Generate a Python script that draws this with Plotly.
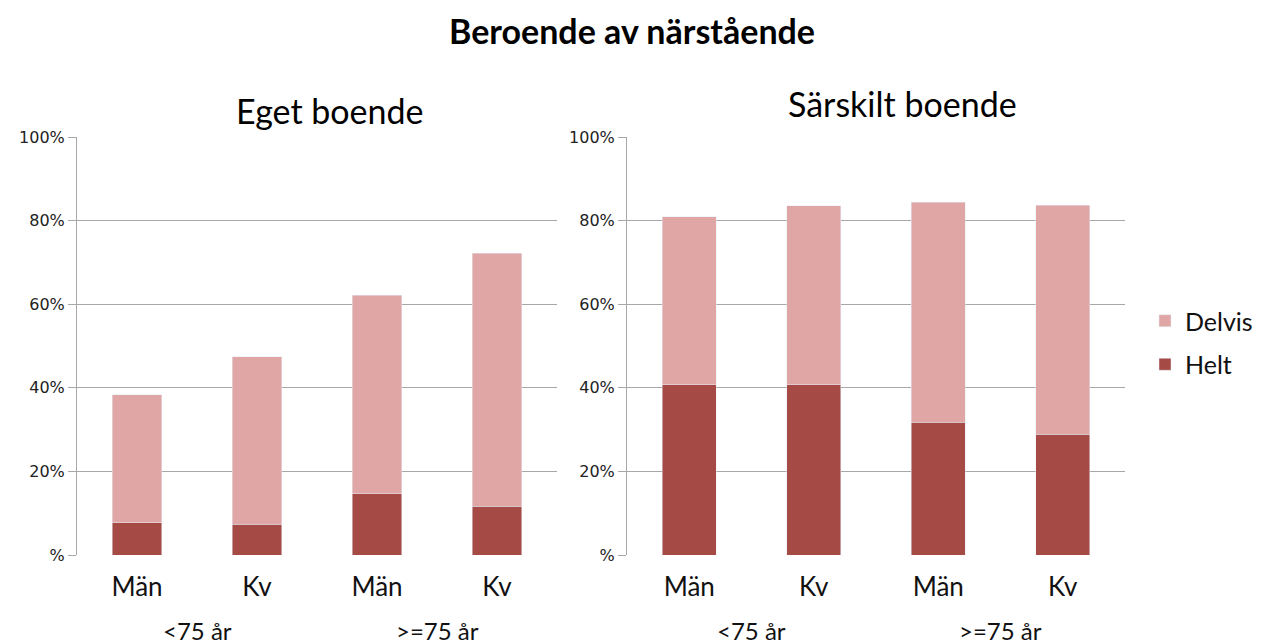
import plotly.graph_objects as go

categories = ["Män", "Kv", "Män", "Kv"]
age_groups = ["<75 år", ">=75 år"]
y_ticks = [0, 20, 40, 60, 80, 100]
y_ticktext = ["%", "20%", "40%", "60%", "80%", "100%"]

# Eget boende
eget_helt = [7.7, 7.4, 14.6, 11.7]
eget_total = [38.3, 47.4, 62.2, 72.2]
# Särskilt boende
sars_helt = [40.7, 40.7, 31.8, 28.9]
sars_total = [80.9, 83.5, 84.4, 83.7]

eget_delvis = [t - h for t, h in zip(eget_total, eget_helt)]
sars_delvis = [t - h for t, h in zip(sars_total, sars_helt)]

c_helt = "#a54a45"
c_delvis = "#e0a6a5"
xpos = list(range(len(categories)))

W, H = 1271, 644
OFF = 8  # page body margin offset
def px(x):
    return (x - OFF) / W
def py(y):
    return (H - (y - OFF)) / H

fig = go.Figure()
for xa, ya, helt, delvis, show, w in [("x", "y", eget_helt, eget_delvis, True, 0.41),
                                       ("x2", "y2", sars_helt, sars_delvis, False, 0.43)]:
    fig.add_trace(go.Bar(x=xpos, y=helt, name="Helt", marker_color=c_helt, width=w,
                         xaxis=xa, yaxis=ya, showlegend=show, legendgroup="h", legendrank=2))
    fig.add_trace(go.Bar(x=xpos, y=delvis, name="Delvis", marker_color=c_delvis, width=w,
                         xaxis=xa, yaxis=ya, showlegend=show, legendgroup="d", legendrank=1))

FONT = "Lato, Open Sans, sans-serif"
grid = "#a8a8a8"
xcommon = dict(tickmode="array", tickvals=xpos, ticktext=categories, range=[-0.5, 3.5],
               showgrid=False, showline=False, ticks="", zeroline=False, automargin=False,
               tickfont=dict(family=FONT, size=26, color="#111"),
               ticklabelstandoff=14)
ycommon = dict(range=[0, 100], tickmode="array", tickvals=y_ticks, ticktext=y_ticktext,
               showgrid=True, gridcolor=grid, gridwidth=1, showline=True, linecolor=grid,
               linewidth=1, ticks="outside", ticklen=8, tickcolor=grid, zeroline=False,
               automargin=False,
               tickfont=dict(family="DejaVu Sans", size=16, color="#222"))

fig.update_layout(
    width=W, height=H, barmode="stack",
    margin=dict(l=0, r=0, t=0, b=0),
    paper_bgcolor="white", plot_bgcolor="white",
    xaxis=dict(domain=[px(77), px(557)], anchor="y", **xcommon),
    xaxis2=dict(domain=[px(627), px(1125)], anchor="y2", **xcommon),
    yaxis=dict(domain=[py(555), py(137)], anchor="x", **ycommon),
    yaxis2=dict(domain=[py(555), py(137)], anchor="x2", **ycommon),
    legend=dict(x=px(1145), y=py(298), xanchor="left", yanchor="top",
                traceorder="grouped", font=dict(family=FONT, size=25, color="#111"),
                itemwidth=30, tracegroupgap=8),
    showlegend=True,
)

annotations = [
    dict(text="<b>Beroende av närstående</b>", x=px(632), y=1, xref="paper", yref="paper",
         xanchor="center", yanchor="top",
         showarrow=False, font=dict(family=FONT, size=34, color="#000")),
    dict(text="Eget boende", x=px(330), y=py(110), xref="paper", yref="paper",
         xanchor="center", yanchor="middle",
         showarrow=False, font=dict(family=FONT, size=34, color="#000")),
    dict(text="Särskilt boende", x=px(902), y=py(104), xref="paper", yref="paper",
         xanchor="center", yanchor="middle",
         showarrow=False, font=dict(family=FONT, size=34, color="#000")),
]
for xr in ["x", "x2"]:
    for i, g in enumerate(age_groups):
        annotations.append(dict(text=g, x=0.5 + 2 * i, xref=xr, y=py(630), yref="paper",
                                xanchor="center", yanchor="middle",
                                showarrow=False, font=dict(family=FONT, size=24, color="#111")))
fig.update_layout(annotations=annotations)

fig.write_html("out.html")
